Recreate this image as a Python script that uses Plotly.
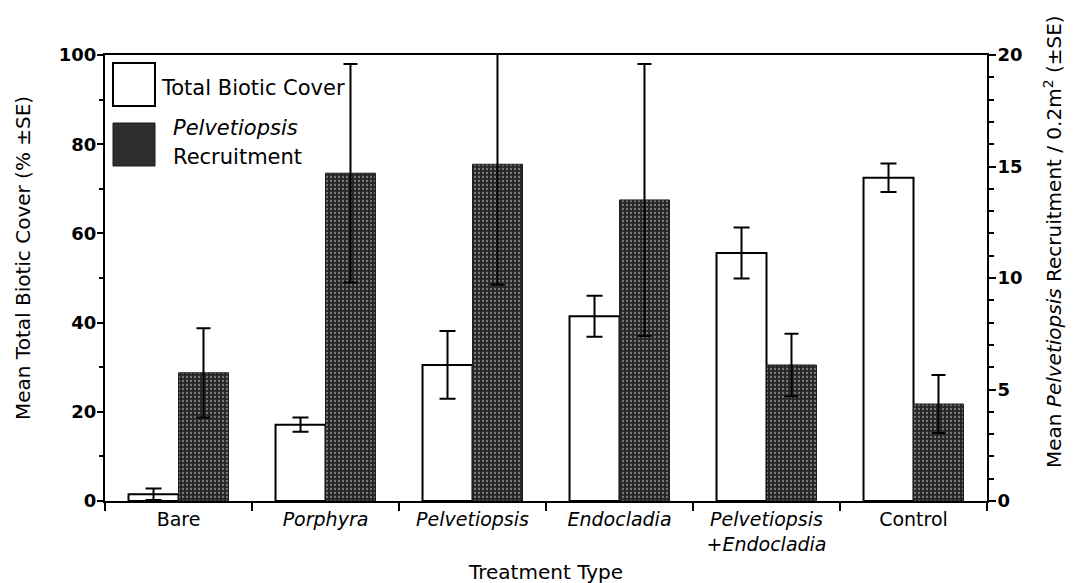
import plotly.graph_objects as go

categories = ["Bare", "<i>Porphyra</i>", "<i>Pelvetiopsis</i>", "<i>Endocladia</i>",
              "<i>Pelvetiopsis</i><br><i>+Endocladia</i>", "Control"]
cover = [1.5, 17.1, 30.5, 41.4, 55.6, 72.5]
cover_se = [1.3, 1.6, 7.6, 4.6, 5.7, 3.2]
recruit = [5.75, 14.7, 15.1, 13.5, 6.1, 4.35]
recruit_se = [2.0, 4.9, 5.4, 6.1, 1.4, 1.3]

FONT = "DejaVu Sans"
OFF = 8                      # page body margin
W, H = 1070, 575             # figure size
# plot area in page pixels: left 105, right 987, top 55, bottom 501
L = 105 - OFF
T = 55 - OFF
R = W - (987 - OFF)
B = H - (501 - OFF)
PW, PH = W - L - R, H - T - B


def px(x):
    return (x - OFF - L) / PW


def py(y):
    return (H - B - (y - OFF)) / PH


fig = go.Figure()
fig.add_trace(go.Bar(
    x=categories, y=cover, yaxis="y", offsetgroup="cover", showlegend=False,
    marker=dict(color="white", line=dict(color="black", width=2)),
    error_y=dict(type="data", array=cover_se, color="black", thickness=2, width=8),
))
fig.add_trace(go.Bar(
    x=categories, y=recruit, yaxis="y2", offsetgroup="recruit", showlegend=False,
    marker=dict(color="#2e2e2e", line=dict(color="#1a1a1a", width=1),
                pattern=dict(shape=".", fgcolor="#7c7c7c", bgcolor="#272727",
                             size=4, solidity=0.25, fillmode="replace")),
    error_y=dict(type="data", array=recruit_se, color="black", thickness=2, width=7),
))

axis_common = dict(showline=True, linecolor="black", linewidth=2, showgrid=False,
                   zeroline=False, ticks="outside", tickcolor="black", tickwidth=2)

fig.update_layout(
    width=W, height=H, margin=dict(l=L, r=R, t=T, b=B),
    paper_bgcolor="white", plot_bgcolor="white",
    barmode="group", bargap=0.32, bargroupgap=0,
    font=dict(family=FONT, color="black"),
    xaxis=dict(**axis_common, type="category", mirror=True, tickson="boundaries",
               ticklen=8, tickfont=dict(family=FONT, size=19, color="black")),
    yaxis=dict(**axis_common, range=[0, 100], dtick=20, ticklen=6, ticklabelstandoff=-3,
               tickfont=dict(family=FONT, size=18, color="black", weight="bold"),
               minor=dict(dtick=10, ticks="outside", ticklen=4, tickwidth=2, tickcolor="black")),
    yaxis2=dict(**axis_common, overlaying="y", side="right", range=[0, 20], dtick=5,
                ticklen=7, ticklabelstandoff=-2,
                tickfont=dict(family=FONT, size=18, color="black", weight="bold"),
                minor=dict(dtick=1, ticks="outside", ticklen=5, tickwidth=2, tickcolor="black")),
)

# legend (drawn manually to match the large legend boxes)
fig.add_shape(type="rect", xref="paper", yref="paper",
              x0=px(113), x1=px(155), y0=py(106), y1=py(63),
              fillcolor="white", line=dict(color="black", width=2))
fig.add_shape(type="rect", xref="paper", yref="paper",
              x0=px(113), x1=px(155), y0=py(166), y1=py(123),
              fillcolor="#2e2e2e", line=dict(color="#1a1a1a", width=1))

ann = dict(xref="paper", yref="paper", showarrow=False)
f_leg = dict(family=FONT, size=21, color="black")
f_tit = dict(family=FONT, size=20, color="black")
fig.add_annotation(text="Total Biotic Cover", x=px(159), y=py(88),
                   xanchor="left", yanchor="middle", font=f_leg, **ann)
fig.add_annotation(text="<i>Pelvetiopsis</i>", x=px(171), y=py(128),
                   xanchor="left", yanchor="middle", font=f_leg, **ann)
fig.add_annotation(text="Recruitment", x=px(171), y=py(157),
                   xanchor="left", yanchor="middle", font=f_leg, **ann)

# axis titles
fig.add_annotation(text="Treatment Type", x=px(545), y=py(572),
                   xanchor="center", yanchor="middle", font=f_tit, **ann)
fig.add_annotation(text="Mean Total Biotic Cover (% ±SE)", x=px(23), y=py(258),
                   textangle=-90, xanchor="center", yanchor="middle", font=f_tit, **ann)
fig.add_annotation(text="Mean <i>Pelvetiopsis</i> Recruitment / 0.2m<sup>2</sup> (±SE)",
                   x=px(1053), y=py(242), textangle=-90,
                   xanchor="center", yanchor="middle", font=f_tit, **ann)

fig.write_html("out.html")
